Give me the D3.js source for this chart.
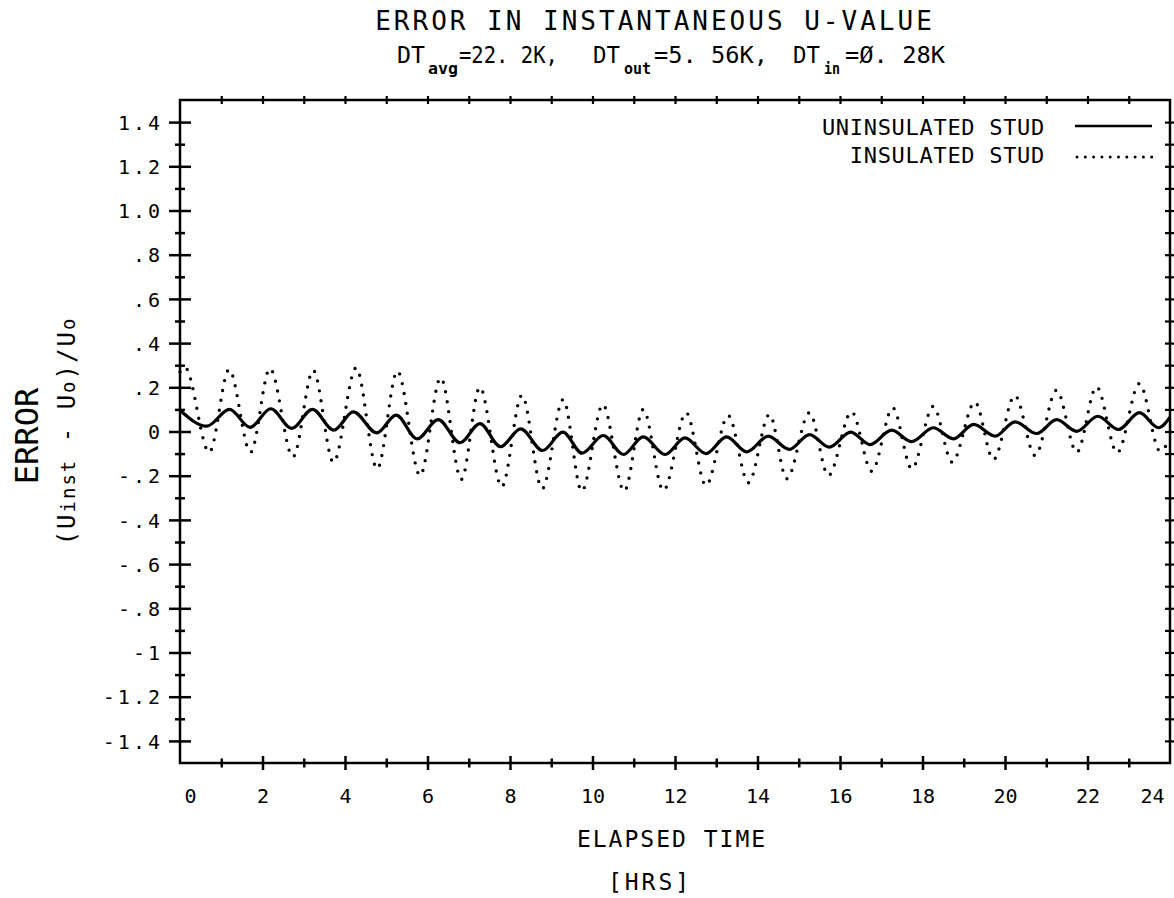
<!DOCTYPE html>
<html>
<head>
<meta charset="utf-8">
<script src="https://cdn.jsdelivr.net/npm/d3@7"></script>
<style>
  body { margin: 0; background: #fff; }
  svg text { font-family: "DejaVu Sans Mono", monospace; fill: #000; }
</style>
</head>
<body>
<div id="chart"></div>
<script>
// values: extremes of each oscillation (hours, error)
const hoursSolid = [0, 0.65, 1.20, 1.70, 2.20, 2.71, 3.21, 3.73, 4.20, 4.77, 5.24, 5.75, 6.26, 6.79, 7.27, 7.77,
  8.26, 8.79, 9.28, 9.75, 10.26, 10.75, 11.23, 11.76, 12.24, 12.75, 13.25, 13.74, 14.26, 14.77, 15.26, 15.74,
  16.26, 16.73, 17.25, 17.74, 18.26, 18.75, 19.24, 19.76, 20.24, 20.77, 21.25, 21.74, 22.25, 22.75, 23.26, 23.72, 24];
const errSolid = [0.096, 0.024, 0.100, 0.019, 0.103, 0.014, 0.100, 0.006, 0.089, -0.006, 0.074, -0.033, 0.054, -0.051, 0.036, -0.069,
  0.012, -0.086, -0.003, -0.098, -0.018, -0.104, -0.024, -0.104, -0.029, -0.100, -0.024, -0.092, -0.021, -0.081, -0.014, -0.071,
  -0.003, -0.059, 0.006, -0.046, 0.017, -0.033, 0.032, -0.021, 0.044, -0.009, 0.054, 0.001, 0.069, 0.009, 0.085, 0.017, 0.065];

const hoursDotted = [0, 0.12, 0.71, 1.19, 1.71, 2.18, 2.74, 3.23, 3.72, 4.27, 4.78, 5.27, 5.82, 6.32, 6.82, 7.27, 7.80,
  8.29, 8.78, 9.29, 9.74, 10.25, 10.77, 11.23, 11.72, 12.27, 12.75, 13.29, 13.78, 14.29, 14.71, 15.26, 15.72,
  16.28, 16.77, 17.28, 17.74, 18.26, 18.72, 19.27, 19.72, 20.24, 20.73, 21.25, 21.74, 22.22, 22.72, 23.26, 23.76, 24];
const errDotted = [0.27, 0.29, -0.094, 0.28, -0.094, 0.285, -0.115, 0.277, -0.139, 0.288, -0.169, 0.273, -0.199, 0.243, -0.217, 0.20, -0.25,
  0.164, -0.259, 0.145, -0.27, 0.122, -0.27, 0.10, -0.267, 0.085, -0.244, 0.072, -0.232, 0.077, -0.214, 0.085, -0.199,
  0.089, -0.18, 0.107, -0.169, 0.114, -0.139, 0.133, -0.127, 0.163, -0.109, 0.187, -0.094, 0.202, -0.096, 0.217, -0.089, -0.03];

const seriesNames = ['UNINSULATED STUD', 'INSULATED STUD'];

const yTickValues = [1.4, 1.2, 1.0, 0.8, 0.6, 0.4, 0.2, 0, -0.2, -0.4, -0.6, -0.8, -1, -1.2, -1.4];
const yTickLabels = ['1.4', '1.2', '1.0', '.8', '.6', '.4', '.2', '0', '-.2', '-.4', '-.6', '-.8', '-1', '-1.2', '-1.4'];
const yMinorValues = [1.3, 1.1, 0.9, 0.7, 0.5, 0.3, 0.1, -0.1, -0.3, -0.5, -0.7, -0.9, -1.1, -1.3];
const xTickValues = [0, 2, 4, 6, 8, 10, 12, 14, 16, 18, 20, 22, 24];
const xTickLabels = ['0', '2', '4', '6', '8', '10', '12', '14', '16', '18', '20', '22', '24'];
const xMinorValues = [1, 3, 5, 7, 9, 11, 13, 15, 17, 19, 21, 23];

const svgWidth = 1174;
const svgHeight = 898;

const svg = d3.select('#chart')
  .append('svg')
  .attr('width', svgWidth)
  .attr('height', svgHeight);

svg.append('rect').attr('width', svgWidth).attr('height', svgHeight).attr('fill', '#fff');

const xScale = d3.scaleLinear().domain([0, 24]).range([180, 1170]);
const yScale = d3.scaleLinear().domain([-1.5, 1.5]).range([763, 100]);

function tickGroup(axis, tx, ty, width) {
  const g = svg.append('g')
    .attr('transform', `translate(${tx}, ${ty})`)
    .call(axis);
  g.select('.domain').remove();
  g.selectAll('line').attr('stroke', '#000').attr('stroke-width', width);
  return g;
}

// left axis: crossing ticks
const yLeft = tickGroup(d3.axisLeft(yScale).tickValues(yTickValues).tickSize(11).tickPadding(6)
  .tickFormat((d, i) => yTickLabels[i]), 180, 0, 2.5);
yLeft.selectAll('text')
  .attr('font-size', 20)
  .attr('font-family', 'DejaVu Sans')
  .attr('letter-spacing', 3)
  .attr('dy', '0.36em');
tickGroup(d3.axisRight(yScale).tickValues(yTickValues).tickSize(11).tickFormat(''), 180, 0, 2.5);
tickGroup(d3.axisLeft(yScale).tickValues(yMinorValues).tickSize(5).tickFormat(''), 180, 0, 2.5);
tickGroup(d3.axisRight(yScale).tickValues(yMinorValues).tickSize(5).tickFormat(''), 180, 0, 2.5);

// right axis: small ticks every 0.1
const yRightValues = yTickValues.concat(yMinorValues);
tickGroup(d3.axisLeft(yScale).tickValues(yRightValues).tickSize(5).tickFormat(''), 1170, 0, 2.2);
tickGroup(d3.axisRight(yScale).tickValues(yRightValues).tickSize(4).tickFormat(''), 1170, 0, 2.2);

// bottom axis
const inner = xTickValues.slice(1, -1);
tickGroup(d3.axisBottom(xScale).tickValues(inner).tickSize(7).tickFormat(''), 0, 763, 2.5);
tickGroup(d3.axisTop(xScale).tickValues(inner).tickSize(7).tickFormat(''), 0, 763, 2.5);
tickGroup(d3.axisBottom(xScale).tickValues(xMinorValues).tickSize(4.5).tickFormat(''), 0, 763, 2.5);
tickGroup(d3.axisTop(xScale).tickValues(xMinorValues).tickSize(4.5).tickFormat(''), 0, 763, 2.5);

const xLabels = tickGroup(d3.axisBottom(xScale).tickValues(xTickValues).tickSize(0)
  .tickFormat((d, i) => xTickLabels[i]), 0, 763, 0);
xLabels.selectAll('line').remove();
xLabels.selectAll('text')
  .attr('font-size', 20)
  .attr('font-family', 'DejaVu Sans')
  .attr('y', 40)
  .attr('dy', null)
  .attr('dx', d => d === 0 ? 10 : d === 24 ? -18 : 0);

// top axis: hourly ticks
const hourly = inner.concat(xMinorValues);
tickGroup(d3.axisTop(xScale).tickValues(hourly).tickSize(4).tickFormat(''), 0, 100, 2.2);
tickGroup(d3.axisBottom(xScale).tickValues(hourly).tickSize(4).tickFormat(''), 0, 100, 2.2);

// frame
svg.append('rect')
  .attr('x', xScale(0)).attr('y', yScale(1.5))
  .attr('width', xScale(24) - xScale(0))
  .attr('height', yScale(-1.5) - yScale(1.5))
  .attr('fill', 'none').attr('stroke', '#000').attr('stroke-width', 2.5);

// curves
const line = d3.line()
  .x(d => xScale(d[0]))
  .y(d => yScale(d[1]))
  .curve(d3.curveMonotoneX);

svg.append('path')
  .datum(d3.zip(hoursSolid, errSolid))
  .attr('d', line)
  .attr('fill', 'none')
  .attr('stroke', '#000')
  .attr('stroke-width', 3.2)
  .attr('stroke-linejoin', 'round');

svg.append('path')
  .datum(d3.zip(hoursDotted, errDotted))
  .attr('d', line)
  .attr('fill', 'none')
  .attr('stroke', '#000')
  .attr('stroke-width', 3.4)
  .attr('stroke-linecap', 'round')
  .attr('stroke-dasharray', '0 10');

// legend
const legend = svg.append('g');
legend.append('text').attr('x', 1045).attr('y', 135).attr('text-anchor', 'end')
  .attr('font-size', 22).attr('letter-spacing', 0.7).text(seriesNames[0]);
legend.append('text').attr('x', 1045).attr('y', 163).attr('text-anchor', 'end')
  .attr('font-size', 22).attr('letter-spacing', 0.7).text(seriesNames[1]);
legend.append('line').attr('x1', 1075).attr('x2', 1152).attr('y1', 126).attr('y2', 126)
  .attr('stroke', '#000').attr('stroke-width', 2.5);
legend.append('line').attr('x1', 1077).attr('x2', 1152).attr('y1', 157).attr('y2', 157)
  .attr('stroke', '#000').attr('stroke-width', 3).attr('stroke-linecap', 'round')
  .attr('stroke-dasharray', '0 8.3');

// titles
svg.append('text').attr('x', 655).attr('y', 30).attr('text-anchor', 'middle')
  .attr('font-size', 26).attr('letter-spacing', 3)
  .text('ERROR IN INSTANTANEOUS U-VALUE');

// subtitle pieces: text, left x, width, subscript?
const subParts = [
  ['DT', 397, 28, false], ['avg', 428, 30, true], ['=22. 2K,', 459, 99, false],
  ['DT', 593, 27, false], ['out', 624, 27, true], ['=5. 56K,', 654, 114, false],
  ['DT', 793, 27, false], ['in', 824, 16, true], ['=Ø. 28K', 845, 100, false]
];
const sub = svg.append('text');
subParts.forEach(p => {
  sub.append('tspan')
    .attr('x', p[1])
    .attr('y', p[3] ? 74 : 63)
    .attr('font-size', p[3] ? 15 : 23)
    .attr('font-weight', p[3] ? 'bold' : 'normal')
    .attr('textLength', p[2])
    .attr('lengthAdjust', 'spacingAndGlyphs')
    .text(p[0]);
});

svg.append('text').attr('x', 672).attr('y', 847).attr('text-anchor', 'middle')
  .attr('font-size', 23).attr('letter-spacing', 2).text('ELAPSED TIME');
svg.append('text').attr('x', 650).attr('y', 890).attr('text-anchor', 'middle')
  .attr('font-size', 23).attr('letter-spacing', 3).text('[HRS]');

svg.append('text').attr('transform', 'translate(38, 436) rotate(-90)').attr('text-anchor', 'middle')
  .attr('font-size', 32).text('ERROR');

const yl = svg.append('text').attr('transform', 'translate(75, 431) rotate(-90)').attr('text-anchor', 'middle')
  .attr('font-size', 24).attr('letter-spacing', 2);
[['(U', 24], ['inst', 19], [' - U', 24], ['o', 19], [')/U', 24], ['o', 19]].forEach(p => {
  yl.append('tspan').attr('font-size', p[1]).text(p[0]);
});
</script>
</body>
</html>
